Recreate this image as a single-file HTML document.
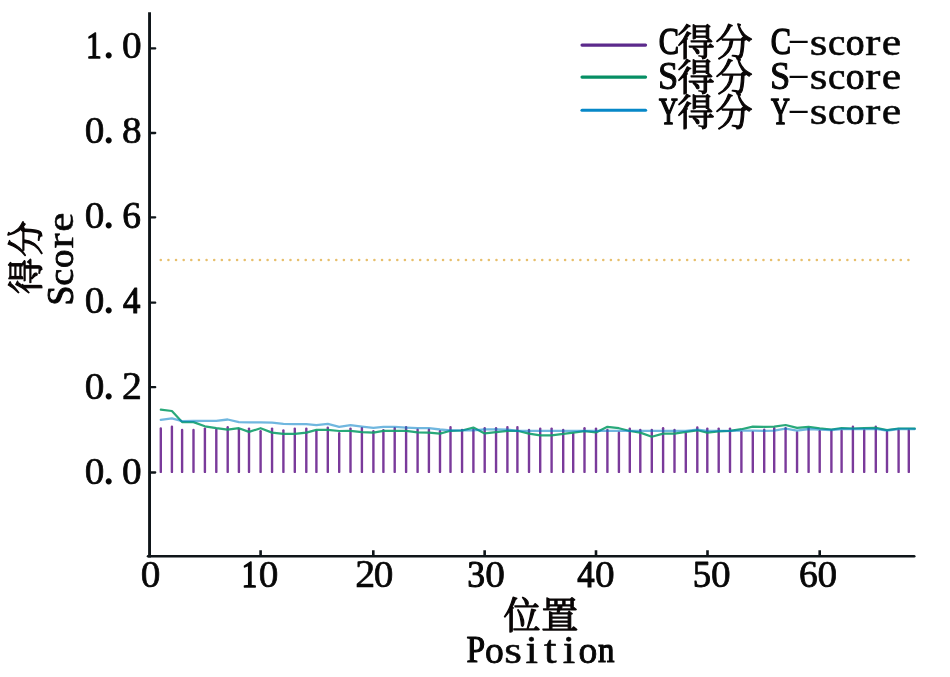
<!DOCTYPE html>
<html lang="zh">
<head>
<meta charset="utf-8">
<title>C-score / S-score / Y-score by position</title>
<style>
html,body{margin:0;padding:0;background:#fff;}
body{width:950px;height:677px;overflow:hidden;font-family:"Liberation Serif",serif;}
svg{display:block;}
svg text{font-family:"Liberation Serif",serif;font-size:40px;fill:#0a0606;stroke:#0a0606;stroke-linejoin:round;}
.labels{filter:grayscale(1);}
.cjk text{font-family:"Liberation Serif","Noto Serif CJK SC",serif;font-size:37px;fill:#0a0606;stroke:#0a0606;stroke-width:1.2;stroke-linejoin:round;}
</style>
</head>
<body>
<svg width="950" height="677" viewBox="0 0 950 677" role="img" aria-label="Score versus Position: C-score, S-score, Y-score">
<desc>Line chart. Y axis: 得分 Score (0.0 to 1.0). X axis: 位置 Position (0 to 68). Legend: C得分 C-score, S得分 S-score, Y得分 Y-score. Dotted threshold at 0.5.</desc>
<rect width="950" height="677" fill="#fff"/>
<g fill="#e7bf6c"><circle cx="160.8" cy="260" r="1.28"/><circle cx="168.43" cy="260" r="1.28"/><circle cx="176.06" cy="260" r="1.28"/><circle cx="183.69" cy="260" r="1.28"/><circle cx="191.31" cy="260" r="1.28"/><circle cx="198.94" cy="260" r="1.28"/><circle cx="206.57" cy="260" r="1.28"/><circle cx="214.2" cy="260" r="1.28"/><circle cx="221.83" cy="260" r="1.28"/><circle cx="229.46" cy="260" r="1.28"/><circle cx="237.09" cy="260" r="1.28"/><circle cx="244.71" cy="260" r="1.28"/><circle cx="252.34" cy="260" r="1.28"/><circle cx="259.97" cy="260" r="1.28"/><circle cx="267.6" cy="260" r="1.28"/><circle cx="275.23" cy="260" r="1.28"/><circle cx="282.86" cy="260" r="1.28"/><circle cx="290.49" cy="260" r="1.28"/><circle cx="298.11" cy="260" r="1.28"/><circle cx="305.74" cy="260" r="1.28"/><circle cx="313.37" cy="260" r="1.28"/><circle cx="321" cy="260" r="1.28"/><circle cx="328.63" cy="260" r="1.28"/><circle cx="336.26" cy="260" r="1.28"/><circle cx="343.89" cy="260" r="1.28"/><circle cx="351.51" cy="260" r="1.28"/><circle cx="359.14" cy="260" r="1.28"/><circle cx="366.77" cy="260" r="1.28"/><circle cx="374.4" cy="260" r="1.28"/><circle cx="382.03" cy="260" r="1.28"/><circle cx="389.66" cy="260" r="1.28"/><circle cx="397.29" cy="260" r="1.28"/><circle cx="404.91" cy="260" r="1.28"/><circle cx="412.54" cy="260" r="1.28"/><circle cx="420.17" cy="260" r="1.28"/><circle cx="427.8" cy="260" r="1.28"/><circle cx="435.43" cy="260" r="1.28"/><circle cx="443.06" cy="260" r="1.28"/><circle cx="450.69" cy="260" r="1.28"/><circle cx="458.31" cy="260" r="1.28"/><circle cx="465.94" cy="260" r="1.28"/><circle cx="473.57" cy="260" r="1.28"/><circle cx="481.2" cy="260" r="1.28"/><circle cx="488.83" cy="260" r="1.28"/><circle cx="496.46" cy="260" r="1.28"/><circle cx="504.09" cy="260" r="1.28"/><circle cx="511.71" cy="260" r="1.28"/><circle cx="519.34" cy="260" r="1.28"/><circle cx="526.97" cy="260" r="1.28"/><circle cx="534.6" cy="260" r="1.28"/><circle cx="542.23" cy="260" r="1.28"/><circle cx="549.86" cy="260" r="1.28"/><circle cx="557.49" cy="260" r="1.28"/><circle cx="565.11" cy="260" r="1.28"/><circle cx="572.74" cy="260" r="1.28"/><circle cx="580.37" cy="260" r="1.28"/><circle cx="588" cy="260" r="1.28"/><circle cx="595.63" cy="260" r="1.28"/><circle cx="603.26" cy="260" r="1.28"/><circle cx="610.89" cy="260" r="1.28"/><circle cx="618.51" cy="260" r="1.28"/><circle cx="626.14" cy="260" r="1.28"/><circle cx="633.77" cy="260" r="1.28"/><circle cx="641.4" cy="260" r="1.28"/><circle cx="649.03" cy="260" r="1.28"/><circle cx="656.66" cy="260" r="1.28"/><circle cx="664.29" cy="260" r="1.28"/><circle cx="671.91" cy="260" r="1.28"/><circle cx="679.54" cy="260" r="1.28"/><circle cx="687.17" cy="260" r="1.28"/><circle cx="694.8" cy="260" r="1.28"/><circle cx="702.43" cy="260" r="1.28"/><circle cx="710.06" cy="260" r="1.28"/><circle cx="717.69" cy="260" r="1.28"/><circle cx="725.31" cy="260" r="1.28"/><circle cx="732.94" cy="260" r="1.28"/><circle cx="740.57" cy="260" r="1.28"/><circle cx="748.2" cy="260" r="1.28"/><circle cx="755.83" cy="260" r="1.28"/><circle cx="763.46" cy="260" r="1.28"/><circle cx="771.09" cy="260" r="1.28"/><circle cx="778.71" cy="260" r="1.28"/><circle cx="786.34" cy="260" r="1.28"/><circle cx="793.97" cy="260" r="1.28"/><circle cx="801.6" cy="260" r="1.28"/><circle cx="809.23" cy="260" r="1.28"/><circle cx="816.86" cy="260" r="1.28"/><circle cx="824.49" cy="260" r="1.28"/><circle cx="832.11" cy="260" r="1.28"/><circle cx="839.74" cy="260" r="1.28"/><circle cx="847.37" cy="260" r="1.28"/><circle cx="855" cy="260" r="1.28"/><circle cx="862.63" cy="260" r="1.28"/><circle cx="870.26" cy="260" r="1.28"/><circle cx="877.89" cy="260" r="1.28"/><circle cx="885.51" cy="260" r="1.28"/><circle cx="893.14" cy="260" r="1.28"/><circle cx="900.77" cy="260" r="1.28"/><circle cx="908.4" cy="260" r="1.28"/></g>
<g stroke="#7a3a9b" stroke-width="2.4" stroke-linecap="round"><line x1="160.8" y1="428.4" x2="160.8" y2="471.9"/><line x1="171.9" y1="426.8" x2="171.9" y2="471.9"/><line x1="182.1" y1="430" x2="182.1" y2="471.9"/><line x1="193.5" y1="430" x2="193.5" y2="471.9"/><line x1="204.9" y1="428.6" x2="204.9" y2="471.9"/><line x1="216.3" y1="429.6" x2="216.3" y2="471.9"/><line x1="227.7" y1="427.3" x2="227.7" y2="471.9"/><line x1="238.9" y1="429.2" x2="238.9" y2="471.9"/><line x1="249" y1="428.6" x2="249" y2="471.9"/><line x1="260.6" y1="431.3" x2="260.6" y2="471.9"/><line x1="272.05" y1="428.6" x2="272.05" y2="471.9"/><line x1="283.4" y1="430.4" x2="283.4" y2="471.9"/><line x1="294.8" y1="428.6" x2="294.8" y2="471.9"/><line x1="306.3" y1="428.6" x2="306.3" y2="471.9"/><line x1="316.4" y1="431.3" x2="316.4" y2="471.9"/><line x1="327.8" y1="427.6" x2="327.8" y2="471.9"/><line x1="339.2" y1="433.2" x2="339.2" y2="471.9"/><line x1="350.5" y1="428.6" x2="350.5" y2="471.9"/><line x1="361.9" y1="428.1" x2="361.9" y2="471.9"/><line x1="373.4" y1="431.3" x2="373.4" y2="471.9"/><line x1="383.4" y1="430.2" x2="383.4" y2="471.9"/><line x1="394.7" y1="428.1" x2="394.7" y2="471.9"/><line x1="406.1" y1="427.1" x2="406.1" y2="471.9"/><line x1="417.6" y1="429.7" x2="417.6" y2="471.9"/><line x1="428.9" y1="429.7" x2="428.9" y2="471.9"/><line x1="440" y1="431.3" x2="440" y2="471.9"/><line x1="450.5" y1="427.1" x2="450.5" y2="471.9"/><line x1="462.05" y1="430" x2="462.05" y2="471.9"/><line x1="473.4" y1="429.7" x2="473.4" y2="471.9"/><line x1="484.7" y1="428.3" x2="484.7" y2="471.9"/><line x1="496.05" y1="428.3" x2="496.05" y2="471.9"/><line x1="507.4" y1="427.1" x2="507.4" y2="471.9"/><line x1="517.4" y1="427.1" x2="517.4" y2="471.9"/><line x1="529" y1="430" x2="529" y2="471.9"/><line x1="540.2" y1="428.6" x2="540.2" y2="471.9"/><line x1="551.6" y1="428.6" x2="551.6" y2="471.9"/><line x1="563.2" y1="430" x2="563.2" y2="471.9"/><line x1="573.2" y1="433.6" x2="573.2" y2="471.9"/><line x1="584.5" y1="428.3" x2="584.5" y2="471.9"/><line x1="596" y1="428.6" x2="596" y2="471.9"/><line x1="607.4" y1="430" x2="607.4" y2="471.9"/><line x1="618.9" y1="432.8" x2="618.9" y2="471.9"/><line x1="629.8" y1="428.6" x2="629.8" y2="471.9"/><line x1="640.3" y1="430" x2="640.3" y2="471.9"/><line x1="651.8" y1="430" x2="651.8" y2="471.9"/><line x1="663.1" y1="428.3" x2="663.1" y2="471.9"/><line x1="674.5" y1="430" x2="674.5" y2="471.9"/><line x1="685.8" y1="433.2" x2="685.8" y2="471.9"/><line x1="697.3" y1="427.4" x2="697.3" y2="471.9"/><line x1="707.3" y1="428.6" x2="707.3" y2="471.9"/><line x1="718.7" y1="428.6" x2="718.7" y2="471.9"/><line x1="730" y1="428.6" x2="730" y2="471.9"/><line x1="741.4" y1="432.3" x2="741.4" y2="471.9"/><line x1="752.8" y1="432.3" x2="752.8" y2="471.9"/><line x1="764.2" y1="429.7" x2="764.2" y2="471.9"/><line x1="774.2" y1="428.3" x2="774.2" y2="471.9"/><line x1="785.6" y1="428.3" x2="785.6" y2="471.9"/><line x1="797.05" y1="432.5" x2="797.05" y2="471.9"/><line x1="808.6" y1="427.9" x2="808.6" y2="471.9"/><line x1="819.7" y1="431.3" x2="819.7" y2="471.9"/><line x1="831.4" y1="430.9" x2="831.4" y2="471.9"/><line x1="841.6" y1="430.9" x2="841.6" y2="471.9"/><line x1="852.9" y1="426.8" x2="852.9" y2="471.9"/><line x1="864.2" y1="430.5" x2="864.2" y2="471.9"/><line x1="875.8" y1="426.8" x2="875.8" y2="471.9"/><line x1="887" y1="432" x2="887" y2="471.9"/><line x1="898.6" y1="430.5" x2="898.6" y2="471.9"/><line x1="908.8" y1="430.5" x2="908.8" y2="471.9"/></g>
<polyline points="160.8,409.7 171.9,411 182.1,422.1 193.5,422.1 204.9,426.3 216.3,428.2 227.7,429.7 238.9,428.2 249,431.9 260.6,428.2 272.05,432.6 283.4,433.9 294.8,433.9 306.3,432.6 316.4,429.9 327.8,429.9 339.2,431 350.5,430.8 361.9,432.2 373.4,432.6 383.4,430.8 394.7,430.8 406.1,430.8 417.6,432.4 428.9,432.6 440,433.6 450.5,430.8 462.05,430.5 473.4,427.6 484.7,433.4 496.05,432.2 507.4,430.8 517.4,430.8 529,433.6 540.2,435.3 551.6,435.3 563.2,433.9 573.2,432.6 584.5,431.1 596,432.4 607.4,426.8 618.9,428.2 629.8,431 640.3,432.6 651.8,436.8 663.1,433.6 674.5,433.6 685.8,431.8 697.3,430.3 707.3,432.6 718.7,431.3 730,430.8 741.4,429.2 752.8,426.6 764.2,426.8 774.2,426.6 785.6,425 797.05,427.9 808.6,426.8 819.7,428.3 831.4,429.5 841.6,428.2 852.9,428.5 864.2,428.2 875.8,427.9 887,430.2 898.6,428.5 908.8,428.5 914.8,428.7" fill="none" stroke="#12a06c" stroke-width="2.2" stroke-linejoin="round" stroke-linecap="round" opacity="0.9"/>
<polyline points="160.8,419.8 171.9,418.3 182.1,421.2 193.5,421 204.9,420.8 216.3,420.8 227.7,419.5 238.9,422.1 249,422.3 260.6,422.4 272.05,422.6 283.4,423.9 294.8,424.2 306.3,424.2 316.4,425.2 327.8,423.9 339.2,426.8 350.5,425.2 361.9,426.6 373.4,427.9 383.4,426.8 394.7,426.8 406.1,427.6 417.6,428.2 428.9,428.2 440,429.5 450.5,430.3 462.05,430.3 473.4,430.3 484.7,429.4 496.05,429.4 507.4,429.7 517.4,430.8 529,430.8 540.2,430.8 551.6,430.8 563.2,430.8 573.2,430.8 584.5,430.8 596,430.8 607.4,430.8 618.9,430.8 629.8,430.8 640.3,430.8 651.8,430.8 663.1,430.8 674.5,430.8 685.8,430.8 697.3,429.7 707.3,430.8 718.7,430.8 730,430.8 741.4,430.6 752.8,430.6 764.2,430.8 774.2,430.6 785.6,428.7 797.05,430.6 808.6,429 819.7,429.7 831.4,430 841.6,429 852.9,429 864.2,429 875.8,428.8 887,430.5 898.6,429 908.8,429 914.8,429" fill="none" stroke="#007ec6" stroke-width="2.3" stroke-linejoin="round" stroke-linecap="round" opacity="0.56"/>
<g stroke="#0f1519" fill="none">
<path d="M149.55 12.2V557.6" stroke-width="2.9"/>
<path d="M148.1 556.25H914.2" stroke-width="2.7" stroke-linecap="round"/>
<path d="M150 48.4H155.2M150 133H155.2M150 217.3H155.2M150 302.7H155.2M150 387.2H155.2M150 472.5H155.2" stroke-width="2.3" stroke-linecap="round"/>
<path d="M260.6 555V550.2M373.3 555V550.2M484.65 555V550.2M596 555V550.2M707.5 555V550.2M819.7 555V550.2" stroke-width="2.6"/>
</g>
<g stroke-width="3.1" stroke-linecap="round">
<line x1="582" y1="45.1" x2="645.6" y2="45.1" stroke="#5c2a8c"/>
<line x1="582" y1="77.1" x2="645.6" y2="77.1" stroke="#068f64"/>
<line x1="582" y1="110.3" x2="645.6" y2="110.3" stroke="#0788c8"/>
</g>
<g class="labels">
<g aria-label="1.0"><text transform="matrix(0.7889 0 0 0.9661 86.12 57.96)" stroke-width="1.39">1</text><text transform="matrix(1.2906 0 0 1.3117 102.35 57.96)" stroke-width="0">.</text><text transform="matrix(0.9818 0 0 0.9723 122.03 58.13)" stroke-width="0.74">0</text></g>
<g aria-label="0.8"><text transform="matrix(0.9818 0 0 0.9723 84.73 143.13)" stroke-width="0.74">0</text><text transform="matrix(1.2906 0 0 1.3117 102.35 142.96)" stroke-width="0">.</text><text transform="matrix(0.9818 0 0 0.9723 122.03 143.13)" stroke-width="0.74">8</text></g>
<g aria-label="0.6"><text transform="matrix(0.9818 0 0 0.9723 84.73 228.13)" stroke-width="0.74">0</text><text transform="matrix(1.2906 0 0 1.3117 102.35 227.96)" stroke-width="0">.</text><text transform="matrix(0.9378 0 0 0.9722 122.27 228.08)" stroke-width="0.92">6</text></g>
<g aria-label="0.4"><text transform="matrix(0.9818 0 0 0.9723 84.73 313.13)" stroke-width="0.74">0</text><text transform="matrix(1.2906 0 0 1.3117 102.35 312.96)" stroke-width="0">.</text><text transform="matrix(0.8673 0 0 0.9696 123.11 312.97)" stroke-width="1.25">4</text></g>
<g aria-label="0.2"><text transform="matrix(0.9818 0 0 0.9723 84.73 399.13)" stroke-width="0.74">0</text><text transform="matrix(1.2906 0 0 1.3117 102.35 398.96)" stroke-width="0">.</text><text transform="matrix(0.9972 0 0 0.9776 122.05 399.13)" stroke-width="0.68">2</text></g>
<g aria-label="0.0"><text transform="matrix(0.9818 0 0 0.9723 84.73 484.13)" stroke-width="0.74">0</text><text transform="matrix(1.2906 0 0 1.3117 102.35 483.96)" stroke-width="0">.</text><text transform="matrix(0.9818 0 0 0.9723 122.03 484.13)" stroke-width="0.74">0</text></g>
<g aria-label="0"><text transform="matrix(0.9818 0 0 0.9723 140.86 587.03)" stroke-width="0.74">0</text></g>
<g aria-label="10"><text transform="matrix(0.7889 0 0 0.9661 241.57 586.86)" stroke-width="1.39">1</text><text transform="matrix(0.9818 0 0 0.9723 258.83 587.03)" stroke-width="0.74">0</text></g>
<g aria-label="20"><text transform="matrix(0.9972 0 0 0.9776 355.2 587.03)" stroke-width="0.68">2</text><text transform="matrix(0.9818 0 0 0.9723 373.83 587.03)" stroke-width="0.74">0</text></g>
<g aria-label="30"><text transform="matrix(0.8899 0 0 0.9676 467.29 586.92)" stroke-width="1.12">3</text><text transform="matrix(0.9818 0 0 0.9723 485.23 587.03)" stroke-width="0.74">0</text></g>
<g aria-label="40"><text transform="matrix(0.8673 0 0 0.9696 577.36 586.87)" stroke-width="1.25">4</text><text transform="matrix(0.9818 0 0 0.9723 594.93 587.03)" stroke-width="0.74">0</text></g>
<g aria-label="50"><text transform="matrix(0.9172 0 0 0.9698 692.63 586.96)" stroke-width="0.99">5</text><text transform="matrix(0.9818 0 0 0.9723 710.93 587.03)" stroke-width="0.74">0</text></g>
<g aria-label="60"><text transform="matrix(0.9378 0 0 0.9722 799.02 586.98)" stroke-width="0.92">6</text><text transform="matrix(0.9818 0 0 0.9723 817.43 587.03)" stroke-width="0.74">0</text></g>
<g aria-label="Position"><text transform="matrix(0.8367 0 0 0.9434 466.43 662.36)" stroke-width="1.31">P</text><text transform="matrix(0.9398 0 0 0.9270 485.03 662.5)" stroke-width="0.91">o</text><text transform="matrix(1.1367 0 0 0.9388 504.25 662.59)" stroke-width="0.53">s</text><text transform="matrix(1.1232 0 0 0.9802 525.45 662.56)" stroke-width="0.53">i</text><text transform="matrix(1.1285 0 0 1.0196 544.06 662.56)" stroke-width="0.53">t</text><text transform="matrix(1.1232 0 0 0.9802 562.81 662.56)" stroke-width="0.53">i</text><text transform="matrix(0.9398 0 0 0.9270 578.43 662.5)" stroke-width="0.91">o</text><text transform="matrix(0.8232 0 0 0.9131 598.1 662.36)" stroke-width="1.34">n</text></g>
<g aria-label="C"><text transform="matrix(0.7625 0 0 0.9641 658.84 54.38)" stroke-width="1.44">C</text></g>
<g aria-label="C-"><text transform="matrix(0.7625 0 0 0.9641 770.74 54.38)" stroke-width="1.44">C</text><text transform="matrix(1.7420 0 0 0.7362 787.01 48.94)" stroke-width="0">-</text></g>
<g aria-label="score"><text transform="matrix(1.1367 0 0 0.9388 809.79 54.59)" stroke-width="0.53">s</text><text transform="matrix(0.9762 0 0 0.9327 828.04 54.54)" stroke-width="0.75">c</text><text transform="matrix(0.9398 0 0 0.9270 845.65 54.5)" stroke-width="0.91">o</text><text transform="matrix(1.1356 0 0 0.9370 865.33 54.56)" stroke-width="0.53">r</text><text transform="matrix(1.0983 0 0 0.9388 881.65 54.59)" stroke-width="0.55">e</text></g>
<g aria-label="S"><text transform="matrix(0.9101 0 0 0.9806 657.99 89.24)" stroke-width="1.03">S</text></g>
<g aria-label="S-"><text transform="matrix(0.9101 0 0 0.9806 769.89 89.24)" stroke-width="1.03">S</text><text transform="matrix(1.7420 0 0 0.7362 787.01 83.74)" stroke-width="0">-</text></g>
<g aria-label="score"><text transform="matrix(1.1367 0 0 0.9388 809.79 89.39)" stroke-width="0.53">s</text><text transform="matrix(0.9762 0 0 0.9327 828.04 89.34)" stroke-width="0.75">c</text><text transform="matrix(0.9398 0 0 0.9270 845.65 89.3)" stroke-width="0.91">o</text><text transform="matrix(1.1356 0 0 0.9370 865.33 89.36)" stroke-width="0.53">r</text><text transform="matrix(1.0983 0 0 0.9388 881.65 89.39)" stroke-width="0.55">e</text></g>
<g aria-label="Y"><text transform="matrix(0.6531 0 0 0.9663 659 124.06)" stroke-width="1.68">Y</text></g>
<g aria-label="Y-"><text transform="matrix(0.6531 0 0 0.9663 770.9 124.06)" stroke-width="1.68">Y</text><text transform="matrix(1.7420 0 0 0.7362 787.01 118.64)" stroke-width="0">-</text></g>
<g aria-label="score"><text transform="matrix(1.1367 0 0 0.9388 809.79 124.29)" stroke-width="0.53">s</text><text transform="matrix(0.9762 0 0 0.9327 828.04 124.24)" stroke-width="0.75">c</text><text transform="matrix(0.9398 0 0 0.9270 845.65 124.2)" stroke-width="0.91">o</text><text transform="matrix(1.1356 0 0 0.9370 865.33 124.26)" stroke-width="0.53">r</text><text transform="matrix(1.0983 0 0 0.9388 881.65 124.29)" stroke-width="0.55">e</text></g>
<g transform="rotate(-90)"><g aria-label="Score"><text transform="matrix(0.8930 0 0 0.9637 -305.56 72.52)" stroke-width="1.11">S</text><text transform="matrix(0.9577 0 0 0.9157 -285.73 72.62)" stroke-width="0.82">c</text><text transform="matrix(0.9223 0 0 0.9100 -268.01 72.58)" stroke-width="0.98">o</text><text transform="matrix(1.1356 0 0 0.9225 -248.41 72.66)" stroke-width="0.53">r</text><text transform="matrix(1.0813 0 0 0.9243 -231.83 72.69)" stroke-width="0.55">e</text></g></g>
</g>
<g class="cjk" fill="#0a0606">
<text x="677.48 715.49" y="56.3">得分</text>
<text x="677.48 715.49" y="91.1">得分</text>
<text x="677.48 715.49" y="126">得分</text>
<text x="503.6 541.32" y="628.9">位置</text>
<g transform="rotate(-90)"><text x="-293.91 -256.81" y="38.7" style="font-size:36px;">得分</text></g>
</g>
</svg>
</body>
</html>
